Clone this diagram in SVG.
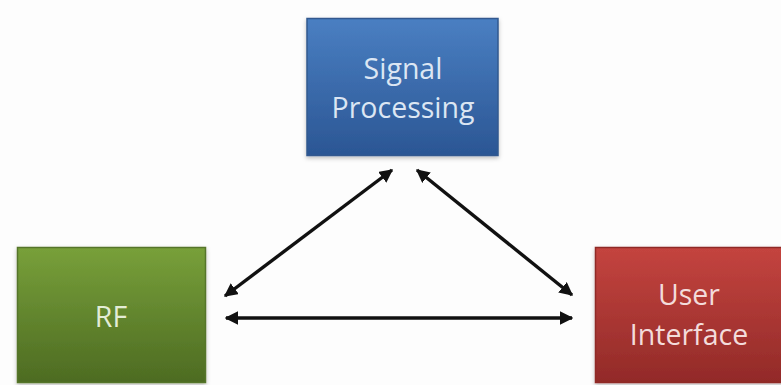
<svg xmlns="http://www.w3.org/2000/svg" width="781" height="385" viewBox="0 0 781 385">
<defs>
<linearGradient id="gBlue" x1="0" y1="0" x2="0" y2="1"><stop offset="0" stop-color="#4a7fc2"/><stop offset="1" stop-color="#2b5694"/></linearGradient>
<linearGradient id="gGreen" x1="0" y1="0" x2="0" y2="1"><stop offset="0" stop-color="#78a03a"/><stop offset="1" stop-color="#4d6b22"/></linearGradient>
<linearGradient id="gRed" x1="0" y1="0" x2="0" y2="1"><stop offset="0" stop-color="#c4443f"/><stop offset="1" stop-color="#922a28"/></linearGradient>
<marker id="ah" viewBox="0 0 10 10" refX="9" refY="5" markerWidth="4" markerHeight="4" orient="auto-start-reverse" markerUnits="strokeWidth">
<path d="M0,0 L10,5 L0,10 Z" fill="#111"/>
</marker>
<filter id="sh" x="-10%" y="-10%" width="120%" height="130%"><feDropShadow dx="0" dy="2" stdDeviation="2" flood-color="#000" flood-opacity="0.25"/></filter>
</defs>
<style>
.lbl{font-family:"Open Sans","Liberation Sans",sans-serif;font-size:28.5px;text-anchor:middle}
.box{stroke-width:1.5;filter:url(#sh)}
.conn{stroke:#111;stroke-width:3.4;fill:none;marker-start:url(#ah);marker-end:url(#ah)}
</style>
<rect width="781" height="385" fill="#fdfdfd"/>
<g id="signal">
<rect class="box" x="307" y="18.5" width="191" height="137" fill="url(#gBlue)" stroke="#30598f"/>
<text class="lbl" x="403" y="79" fill="#dce6f3">Signal</text>
<text class="lbl" x="403" y="118" fill="#dce6f3">Processing</text>
</g>
<g id="rf">
<rect class="box" x="17.5" y="247.5" width="188" height="135" fill="url(#gGreen)" stroke="#55742a"/>
<text class="lbl" x="111" y="327" fill="#e3ecd6">RF</text>
</g>
<g id="ui">
<rect class="box" x="595.5" y="247.5" width="188" height="135" fill="url(#gRed)" stroke="#8f2b28"/>
<text class="lbl" x="689" y="305" fill="#f3dcdb">User</text>
<text class="lbl" x="689" y="345" fill="#f3dcdb">Interface</text>
</g>
<g id="connectors">
<line class="conn" x1="392" y1="170" x2="225" y2="296"/>
<line class="conn" x1="417" y1="170" x2="572" y2="295"/>
<line class="conn" x1="226" y1="318" x2="572" y2="318"/>
</g>
</svg>
